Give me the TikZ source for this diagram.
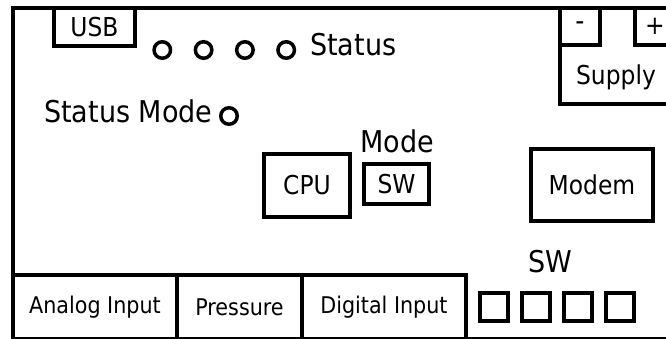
\documentclass[tikz,border=0pt]{standalone}
\usepackage{fontspec}
\setmainfont{DejaVu Sans Condensed}
\usetikzlibrary{positioning}

\begin{document}
\begin{tikzpicture}[
    x=1pt, y=-1pt,
    box/.style={draw, rectangle, line width=4pt, inner sep=0pt, font=\fontsize{26}{30}\selectfont},
    port/.style={draw, rectangle, line width=4pt, inner sep=0pt, minimum height=64pt, font=\fontsize{23}{27}\selectfont},
    led/.style={draw, circle, line width=3.5pt, inner sep=0pt, minimum size=16.5pt},
    swbox/.style={draw, rectangle, line width=4pt, inner sep=0pt, minimum size=28.5pt},
    tag/.style={inner sep=0pt, font=\fontsize{30}{34}\selectfont}
]
\useasboundingbox (0,0) rectangle (666,338);
\clip (0,0) rectangle (666,338);
\node[draw, rectangle, line width=4pt, minimum width=664pt, minimum height=331pt] (Board) at (345,173.5) {};
\node[box, minimum width=81pt, minimum height=38pt] (USB) at (94.5,27) {USB};
\foreach \i in {1,...,4} \node[led] (Led\i) at (121+41.3*\i,50) {};
\node[tag, anchor=base west] (StatusText) at (310,55) {Status};
\node[tag, anchor=base west] (StatusModeText) at (44,122) {Status Mode};
\node[led] (LedMode) at (229,116) {};
\node[box, minimum width=40pt, minimum height=37pt, font=\fontsize{28}{32}\selectfont] (Minus) at (580,26.5) {-};
\node[box, minimum width=40pt, minimum height=37pt] (Plus) at (655,26.5) {+};
\node[box, minimum width=117pt, minimum height=96pt] (Supply) at (618.5,56) {};
\node[inner sep=0pt, font=\fontsize{26}{30}\selectfont] (SupplyText) at (616,77) {Supply};
\node[box, minimum width=86pt, minimum height=63pt] (CPU) at (307,185.5) {CPU};
\node[box, minimum width=65pt, minimum height=40pt] (ModeSW) at (396.5,184) {SW};
\node[tag, anchor=base] (ModeText) at (397,152) {Mode};
\node[box, minimum width=122pt, minimum height=72pt] (Modem) at (592,185) {Modem};
\node[port, minimum width=164pt] (Analog) at (95,307) {Analog Input};
\node[port, minimum width=125pt] (Pressure) at (239.5,307) {Pressure};
\node[port, minimum width=164pt] (Digital) at (384,307) {Digital Input};
\foreach \i in {0,...,3} \node[swbox] (SW\i) at (494+42*\i,307) {};
\node[tag, anchor=base] (SWText) at (550,272) {SW};
\end{tikzpicture}
\end{document}
